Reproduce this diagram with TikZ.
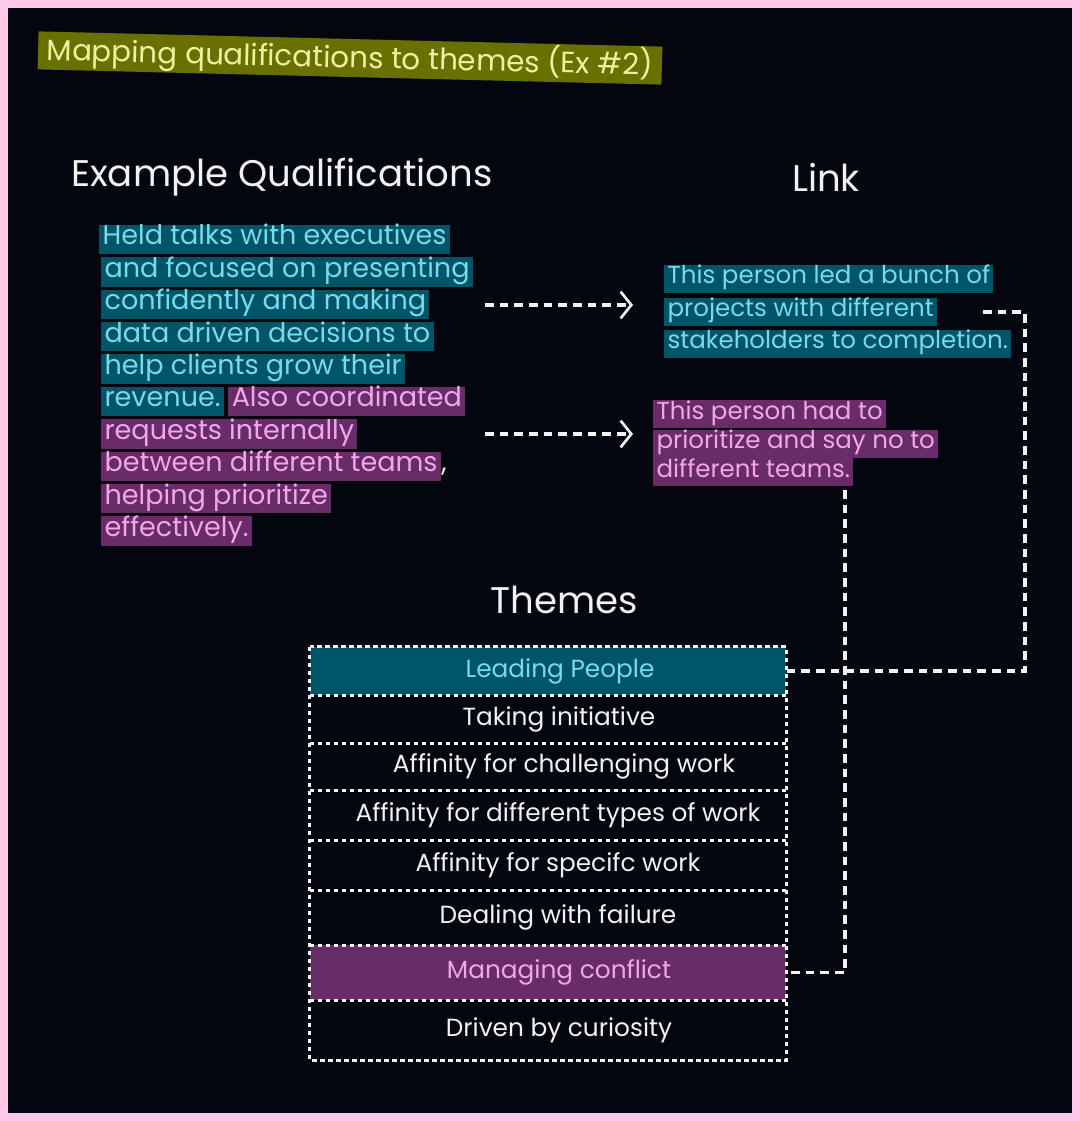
\documentclass[tikz,border=0pt]{standalone}
\usepackage{fontspec}
\setmainfont{Poppins}
\usetikzlibrary{arrows.meta}
\definecolor{bg}{HTML}{03060F}
\definecolor{pinkb}{HTML}{FFC8E8}
\definecolor{tealf}{HTML}{005468}
\definecolor{tealt}{HTML}{74DCEC}
\definecolor{purpf}{HTML}{682C68}
\definecolor{purpt}{HTML}{F2A6EA}
\definecolor{olivef}{HTML}{6A7000}
\definecolor{olivet}{HTML}{EEF0A0}
\definecolor{lineW}{HTML}{F2F2F2}
\tikzset{
  hl/.style={anchor=west, inner xsep=2.5pt, inner ysep=0pt, text height=15pt, text depth=7pt, font=\fontsize{20.3}{24}\selectfont},
  tealhl/.style={hl, fill=tealf, text=tealt},
  purphl/.style={hl, fill=purpf, text=purpt},
  linkhl/.style={font=\fontsize{18.4}{22}\selectfont, text height=14.5pt, text depth=6.5pt},
  heading/.style={text=lineW, font=\fontsize{27.8}{33}\selectfont},
  conn/.style={draw=lineW, line width=2.3pt, dash pattern=on 6.5pt off 4.5pt},
  arr/.style={conn, -{Straight Barb[length=8pt,width=20pt,line width=2pt]}},
  dotb/.style={draw=lineW, line width=2.2pt, dash pattern=on 3.5pt off 2.5pt},
  rowbox/.style={minimum width=476*0.75pt, inner sep=0pt, draw=none},
  rowtext/.style={inner sep=0pt, text=lineW, font=\fontsize{18.6}{22}\selectfont},
}
\begin{document}
\begin{tikzpicture}[x=0.75pt,y=-0.75pt]
\useasboundingbox (0,0) rectangle (1080,1121);
\fill[pinkb] (0,0) rectangle (1080,1121);
\fill[bg] (8,8) rectangle (1072,1113);

% title
\node[fill=olivef, text=olivet, rotate=-1.4, minimum width=624*0.75pt, minimum height=38*0.75pt, inner sep=0pt, font=\fontsize{22}{25}\selectfont] (title) at (350,58) {Mapping qualifications to themes (Ex \#2)};

% headings
\node[heading] (hq) at (282,177) {Example Qualifications};
\node[heading] (hl) at (826,177) {Link};
\node[heading] (ht) at (564,600) {Themes};

% left paragraph
\node[tealhl] (q1) at (99,239.5) {Held talks with executives};
\node[tealhl] (q2) at (101,271.9) {and focused on presenting};
\node[tealhl] (q3) at (101,304.3) {confidently and making};
\node[tealhl] (q4) at (101,336.7) {data driven decisions to};
\node[tealhl] (q5) at (101,369.1) {help clients grow their};
\node[tealhl] (q6) at (101,401.5) {revenue.};
\node[purphl, xshift=3pt] (q6b) at (q6.east) {Also coordinated};
\node[purphl] (q7) at (101,433.9) {requests internally};
\node[purphl] (q8) at (101,466.3) {between different teams};
\node[hl, text=lineW, inner xsep=0pt] (q8b) at (q8.east) {,};
\node[purphl] (q9) at (101,498.7) {helping prioritize};
\node[purphl] (q10) at (101,531.1) {effectively.};

% link boxes
\node[tealhl, linkhl] (l1a) at (664,278.5) {This person led a bunch of};
\node[tealhl, linkhl] (l1b) at (664,311.5) {projects with different};
\node[tealhl, linkhl] (l1c) at (664,343.5) {stakeholders to completion.};
\node[purphl, linkhl] (l2a) at (653,414) {This person had to};
\node[purphl, linkhl] (l2b) at (653,443.5) {prioritize and say no to};
\node[purphl, linkhl] (l2c) at (653,472) {different teams.};

% arrows
\coordinate (a1s) at (485,305);
\coordinate (a1e) at (633,305);
\coordinate (a2s) at (485,434);
\coordinate (a2e) at (633,434);
\draw[arr] (a1s) -- (a1e);
\draw[arr] (a2s) -- (a2e);

% themes table: row boxes
\node[rowbox, fill=tealf, minimum height=48*0.75pt] (r1) at (548,671) {};
\node[rowbox, minimum height=48*0.75pt] (r2) at (548,719) {};
\node[rowbox, minimum height=47*0.75pt] (r3) at (548,766.5) {};
\node[rowbox, minimum height=50*0.75pt] (r4) at (548,815) {};
\node[rowbox, minimum height=50*0.75pt] (r5) at (548,865) {};
\node[rowbox, minimum height=55*0.75pt] (r6) at (548,917.5) {};
\node[rowbox, fill=purpf, minimum height=55*0.75pt] (r7) at (548,972.5) {};
\node[rowbox, minimum height=60*0.75pt] (r8) at (548,1030) {};
% row texts
\node[rowtext, text=tealt] (t1) at (560,671) {Leading People};
\node[rowtext] (t2) at (559,719) {Taking initiative};
\node[rowtext] (t3) at (564,766.5) {Affinity for challenging work};
\node[rowtext] (t4) at (558,815) {Affinity for different types of work};
\node[rowtext] (t5) at (558,865) {Affinity for specifc work};
\node[rowtext] (t6) at (558,917.5) {Dealing with failure};
\node[rowtext, text=purpt] (t7) at (559,972.5) {Managing conflict};
\node[rowtext] (t8) at (559,1030) {Driven by curiosity};
% borders
\draw[dotb] (r1.north west) rectangle (r8.south east);
\foreach \r in {r1,r2,r3,r4,r5,r6,r7}
  \draw[dotb] (\r.south west) -- (\r.south east);

% connectors
\coordinate (c1) at (983,312);
\coordinate (c2) at (845,490);
\draw[conn] (c1) -- (1025,312) |- (r1.east);
\draw[conn] (c2) |- (r7.east);
\end{tikzpicture}
\end{document}
